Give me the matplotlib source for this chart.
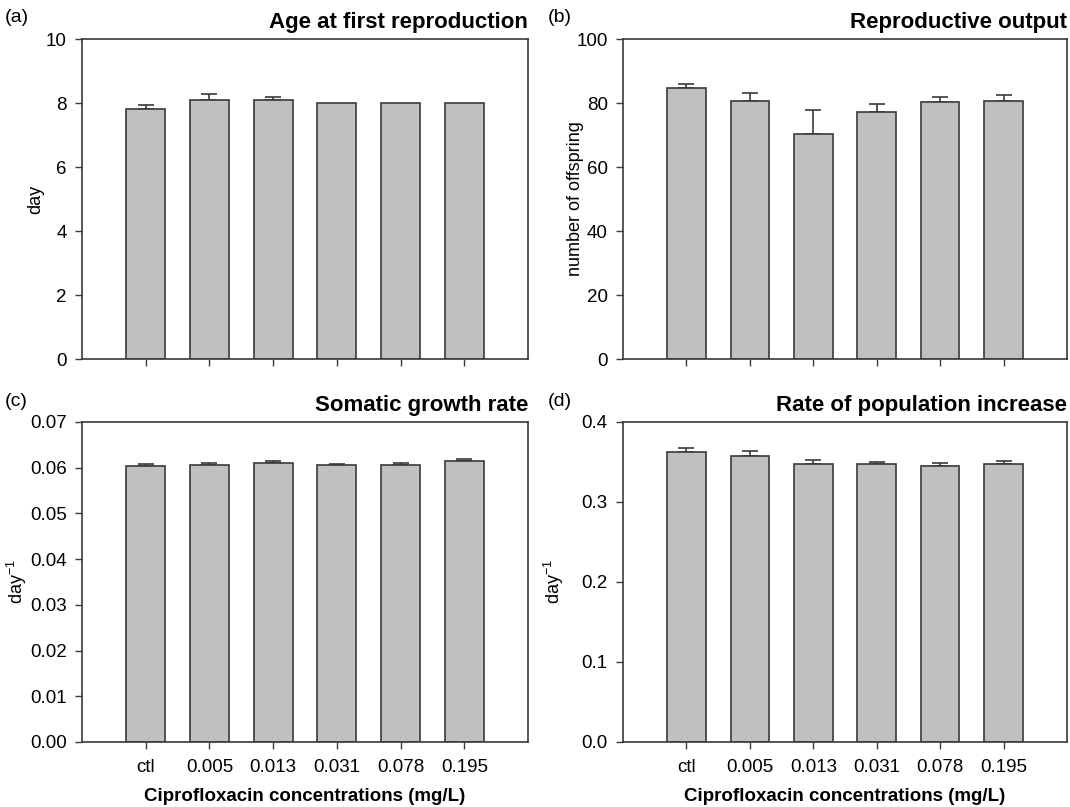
import matplotlib.pyplot as plt
import numpy as np

plt.rcParams["font.family"] = ["Liberation Sans", "DejaVu Sans"]

# data
groups = ["ctl", "0.005", "0.013", "0.031", "0.078", "0.195"]

age_mean = [7.8, 8.1, 8.1, 8.0, 8.0, 8.0]
age_err = [0.13, 0.17, 0.1, 0.0, 0.0, 0.0]

offspring_mean = [84.8, 80.7, 70.4, 77.1, 80.4, 80.7]
offspring_err = [1.0, 2.3, 7.4, 2.7, 1.6, 1.8]

growth_mean = [0.0603, 0.0607, 0.0610, 0.0605, 0.0607, 0.0615]
growth_err = [0.0005, 0.0004, 0.0005, 0.0003, 0.0003, 0.0003]

pop_mean = [0.362, 0.358, 0.347, 0.348, 0.345, 0.348]
pop_err = [0.0055, 0.0063, 0.006, 0.0018, 0.0033, 0.0028]

panels = [
    ("(a)", "Age at first reproduction", "day", age_mean, age_err, (0, 10), np.arange(0, 10.1, 2), "{:.0f}"),
    ("(b)", "Reproductive output", "number of offspring", offspring_mean, offspring_err, (0, 100), np.arange(0, 101, 20), "{:.0f}"),
    ("(c)", "Somatic growth rate", "day$^{\\mathregular{-1}}$", growth_mean, growth_err, (0, 0.07), np.arange(0, 0.0701, 0.01), "{:.2f}"),
    ("(d)", "Rate of population increase", "day$^{\\mathregular{-1}}$", pop_mean, pop_err, (0, 0.4), np.arange(0, 0.401, 0.1), "{:.1f}"),
]

fig = plt.figure(figsize=(10.7, 8.07), dpi=100)

W, H = 1070, 807
boxes = [(82, 39, 528, 359), (623, 39, 1067, 359), (82, 422, 528, 742), (623, 422, 1067, 742)]
label_x = [44, 584, 29, 566]     # right edge of y label, px
tag_pos = [(5, 18), (548, 18), (5, 401), (548, 401)]

edge = "#3a3a3a"
x = np.arange(1, len(groups) + 1)

for i, (tag, title, ylab, mean, err, ylim, yticks, fmt) in enumerate(panels):
    x0, y0, x1, y1 = boxes[i]
    ax = fig.add_axes([x0 / W, 1 - y1 / H, (x1 - x0) / W, (y1 - y0) / H])
    ax.bar(x, mean, width=0.61, color="#c0c0c0", edgecolor=edge, linewidth=1.2, zorder=2)
    mean = np.array(mean)
    err = np.array(err)
    has = err > 0
    ax.errorbar(x[has], mean[has], yerr=[np.zeros(has.sum()), err[has]], fmt="none",
                ecolor=edge, elinewidth=1.2, capsize=6, capthick=1.2, zorder=1)
    ax.set_xlim(0, 7)
    ax.set_ylim(*ylim)
    ax.set_yticks(yticks)
    ax.set_yticklabels([fmt.format(v) for v in yticks], fontsize=13.5)
    ax.set_xticks(x)
    if i >= 2:
        ax.set_xticklabels(groups, fontsize=13.5)
        ax.set_xlabel("Ciprofloxacin concentrations (mg/L)", fontsize=13.5, fontweight="bold", labelpad=9)
    else:
        ax.set_xticklabels([])
    ax.tick_params(direction="out", length=5, width=1, color=edge, pad=6)
    ax.tick_params(axis="x", pad=7)
    for s in ax.spines.values():
        s.set_color(edge)
        s.set_linewidth(1.2)
    ax.set_ylabel(ylab, fontsize=13)
    ax.yaxis.set_label_coords((label_x[i] - x0) / (x1 - x0), 0.5)
    ax.text(1.0, 11 / (y1 - y0) + 1, title, transform=ax.transAxes, ha="right", va="baseline",
            fontsize=16, fontweight="bold")
    fig.text(tag_pos[i][0] / W, 1 - tag_pos[i][1] / H, tag, ha="left", va="center", fontsize=14)

fig.savefig("out.png", dpi=100)
